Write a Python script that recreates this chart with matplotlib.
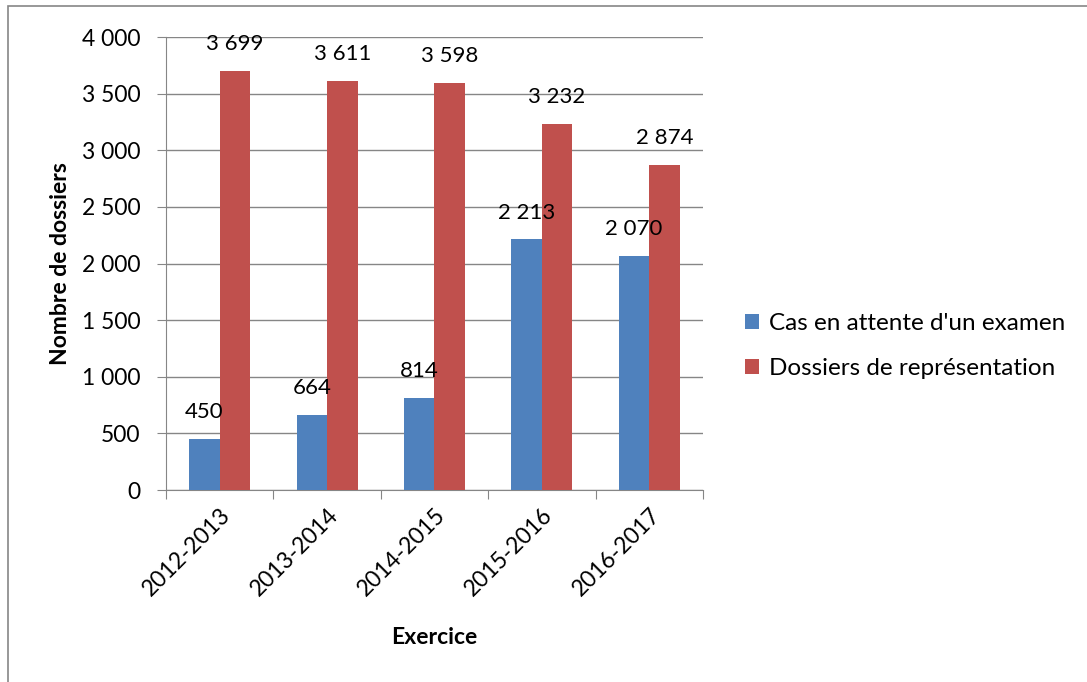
import numpy as np
import matplotlib.pyplot as plt
from matplotlib.patches import Rectangle

plt.rcParams['font.family'] = ['Lato', 'DejaVu Sans']

exercices = ['2012-2013', '2013-2014', '2014-2015', '2015-2016', '2016-2017']
attente = [450, 664, 814, 2213, 2070]
representation = [3699, 3611, 3598, 3232, 2874]

blue = '#4F81BD'
red = '#C0504D'
grey = '#868686'


def fmt(v):
    return '{:,}'.format(int(v)).replace(',', ' ')


fig = plt.figure(figsize=(10.87, 6.82), dpi=100)
ax = fig.add_axes([0.1527, 0.2815, 0.494, 0.6642])

x = np.arange(len(exercices))
w = 0.284
b1 = ax.bar(x - w / 2, attente, w, color=blue, label="Cas en attente d'un examen", zorder=3)
b2 = ax.bar(x + w / 2, representation, w, color=red, label='Dossiers de représentation', zorder=3)

# etiquettes de valeurs au-dessus des barres
for bars, vals in [(b1, attente), (b2, representation)]:
    for r, v in zip(bars, vals):
        ax.annotate(fmt(v), (r.get_x() + r.get_width() / 2, v), xytext=(0, 12),
                    textcoords='offset points', ha='center', va='bottom', fontsize=16)

ax.set_xlim(-0.5, len(exercices) - 0.5)
ax.set_ylim(0, 4000)
ax.set_yticks(np.arange(0, 4001, 500))
ax.set_yticklabels([fmt(t) for t in np.arange(0, 4001, 500)], fontsize=16.5)
ax.yaxis.grid(True, color=grey, linewidth=1, zorder=0)

ax.set_xticks(np.arange(-0.5, len(exercices), 1))
ax.set_xticklabels([])
ax.set_xticks(x, minor=True)
ax.set_xticklabels(exercices, minor=True, rotation=45, ha='right', rotation_mode='anchor', fontsize=16.5)
ax.tick_params(axis='x', which='minor', length=0, pad=10)
ax.tick_params(axis='x', which='major', length=6.5, color=grey)
ax.tick_params(axis='y', length=6.5, color=grey, pad=12)

for s in ['top', 'right']:
    ax.spines[s].set_visible(False)
for s in ['left', 'bottom']:
    ax.spines[s].set_color(grey)

ax.set_xlabel('Exercice', fontweight='bold', fontsize=16.5, labelpad=20)
ax.set_ylabel('Nombre de dossiers', fontweight='bold', fontsize=16.5, labelpad=8)

ax.legend(loc='center left', bbox_to_anchor=(1.078, 0.318), frameon=False, fontsize=17.5,
          borderpad=0, borderaxespad=0, handlelength=0.6, handleheight=0.6,
          handletextpad=0.4, labelspacing=1.0)

fig.patches.append(Rectangle((8 / 1087, -0.1), 1.2, 1 - 6 / 682 + 0.1, transform=fig.transFigure,
                             fill=False, edgecolor=grey, linewidth=1.2))

fig.savefig('out.png', dpi=100)
